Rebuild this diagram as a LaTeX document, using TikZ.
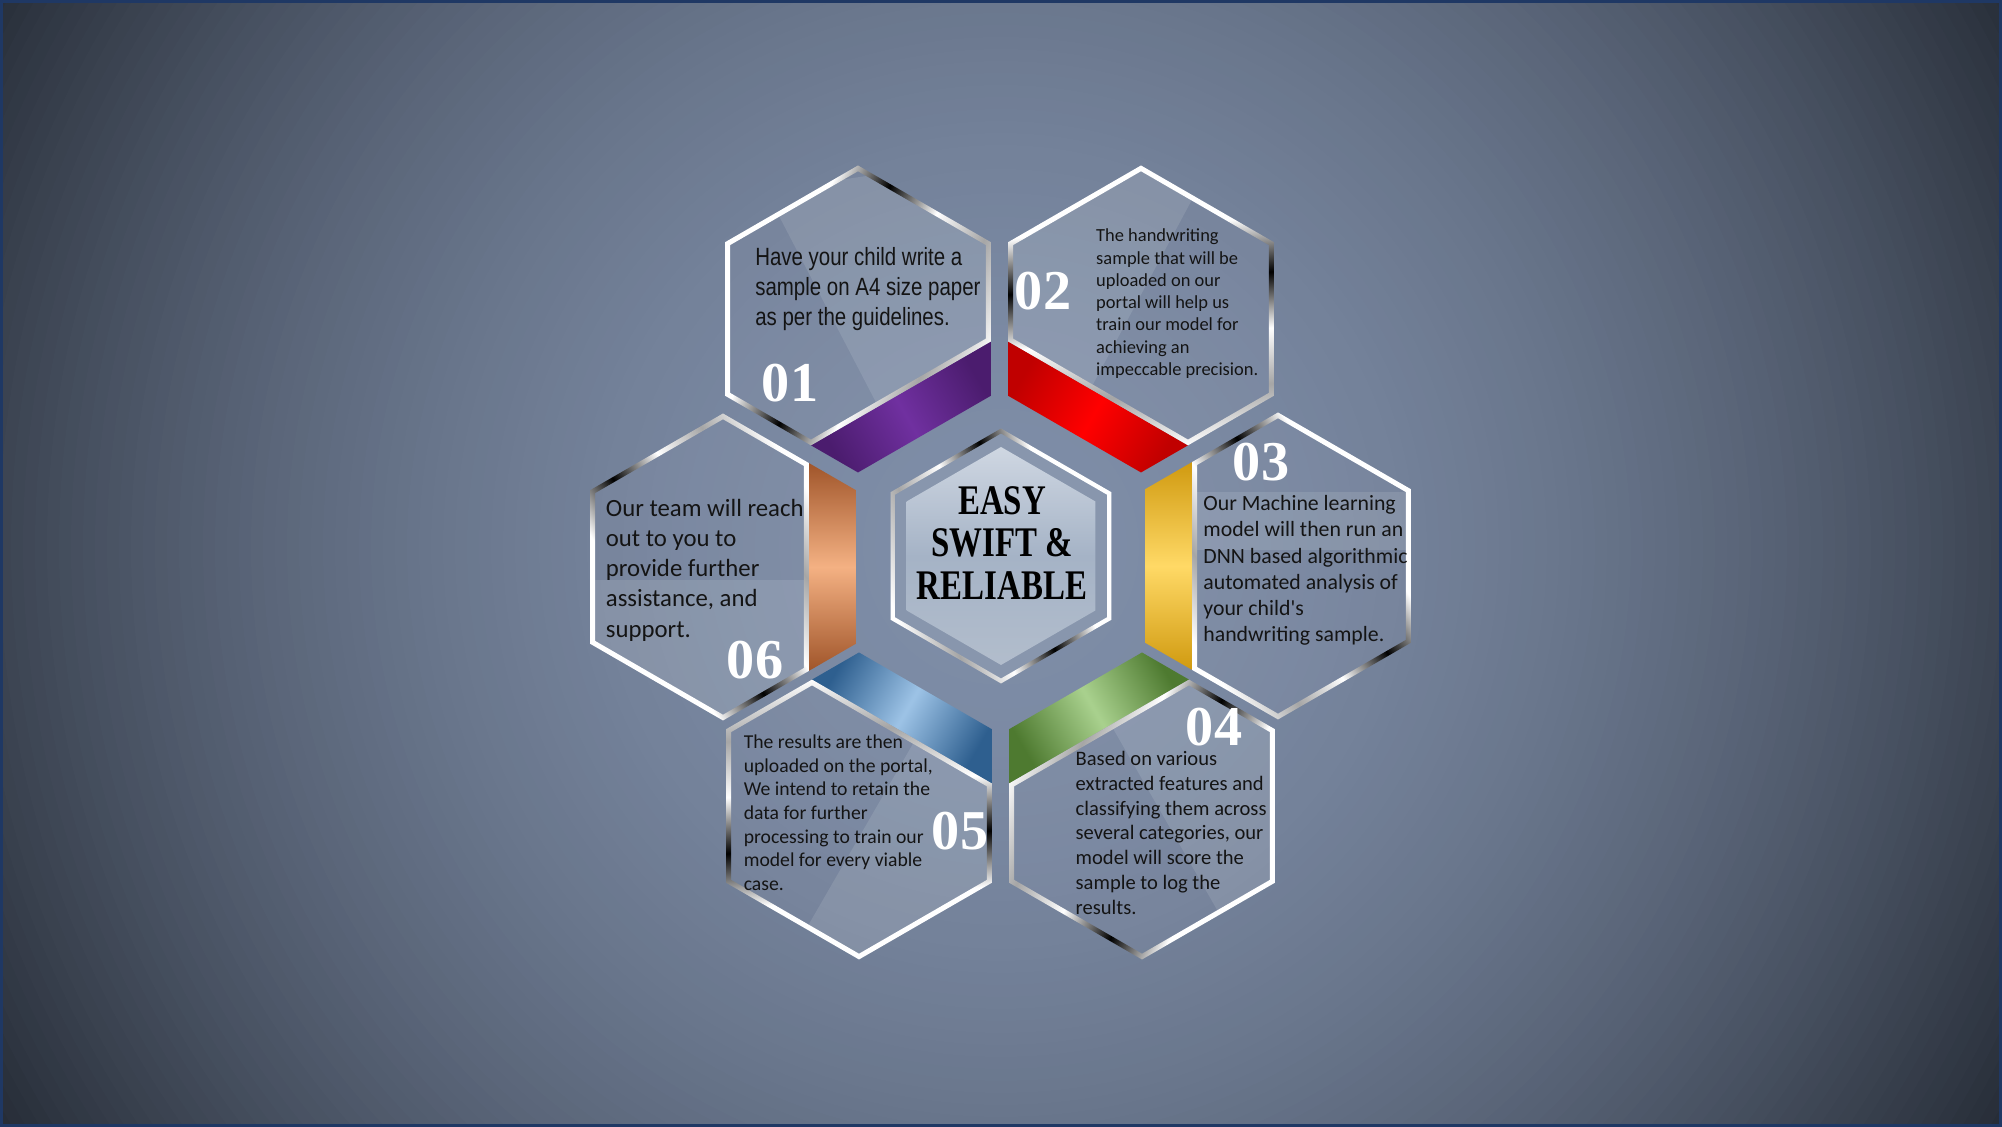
\documentclass[tikz,border=0pt]{standalone}
\usepackage{fontspec}
\newfontfamily\bodyfont{Carlito}
\newfontfamily\narrowfont[FakeStretch=0.82]{Liberation Sans}
\newfontfamily\digitfont{Liberation Serif}
\newfontfamily\corefont[FakeStretch=0.78]{Liberation Serif}

\definecolor{bgmid}{HTML}{7E8DA7}
\definecolor{bgedge}{HTML}{252B35}
\definecolor{framecol}{HTML}{1F3864}
\definecolor{purpleend}{HTML}{4B1C6E}
\definecolor{purplemid}{HTML}{7030A0}
\definecolor{redend}{HTML}{C00000}
\definecolor{redmid}{HTML}{FF0000}
\definecolor{yellowend}{HTML}{D09A10}
\definecolor{yellowmid}{HTML}{FFD966}
\definecolor{greenend}{HTML}{4E7A30}
\definecolor{greenmid}{HTML}{A9D18E}
\definecolor{blueend}{HTML}{2E5F8F}
\definecolor{bluemid}{HTML}{9DC3E6}
\definecolor{orangeend}{HTML}{A0552A}
\definecolor{orangemid}{HTML}{F4B183}
\definecolor{corering}{HTML}{8896AD}
\definecolor{coretop}{HTML}{CFD7E2}
\definecolor{coremid}{HTML}{A5B3C6}
\definecolor{corebot}{HTML}{B2BDCC}

\pgfdeclarehorizontalshading{metal}{100bp}{color(0bp)=(black); color(10bp)=(white); color(24bp)=(white); color(34bp)=(gray!70); color(44bp)=(white); color(54bp)=(black); color(64bp)=(white); color(80bp)=(white); color(90bp)=(black!75); color(100bp)=(white)}

\tikzset{
  glass/.style={fill=white, fill opacity=0.03},
  rim/.style={shading=metal, even odd rule},
  sheen/.style={fill=white, fill opacity=0.11},
  note/.style={anchor=north west, inner sep=0pt, align=left, text=black!92},
  numlabel/.style={text=white, inner sep=0pt, font=\digitfont\bfseries\fontsize{16}{16}\selectfont},
}

\def\hexR{1.535}
\def\hexRi{1.3293}
\def\rimR{1.4773}
\def\bandT{0.47}
\def\bandS{0.2714}

% glass part of a cell, band side towards the left
\newcommand\glass[1]{({-0.86603*#1+\bandT},{#1/2+\bandS}) -- (0,#1) -- ({0.86603*#1},{#1/2}) -- ({0.86603*#1},{-#1/2}) -- (0,-#1) -- ({-0.86603*#1+\bandT},{-#1/2-\bandS}) -- cycle}
\newcommand\hexagon[1]{(90:#1) -- (150:#1) -- (210:#1) -- (270:#1) -- (330:#1) -- (30:#1) -- cycle}

% #1 centre, #2 angle, #3 band end colour, #4 band middle colour
\newcommand\hexcell[4]{%
  \begin{scope}[shift={#1}, rotate=#2]
    \fill[glass] \glass{\hexR};
    \shade[top color=#3, bottom color=#3, middle color=#4, shading angle=#2]
      (-\hexRi,{\hexR/2}) -- ({-\hexRi+\bandT},{\hexR/2+\bandS}) -- ({-\hexRi+\bandT},{-\hexR/2-\bandS}) -- (-\hexRi,{-\hexR/2}) -- cycle;
    \shade[rim, shading angle={#2+35}] \glass{\hexR} \glass{\rimR};
  \end{scope}}

\begin{document}
\begin{tikzpicture}
\useasboundingbox (0,0) rectangle (20.02,11.27);
% backdrop, darker towards the corners
\begin{scope}
  \clip (0,0) rectangle (20.02,11.27);
  \fill[bgedge] (0,0) rectangle (20.02,11.27);
  \foreach \k in {0,...,95} {
    \pgfmathsetmacro\rad{11.7-0.12*\k}
    \pgfmathsetmacro\mix{100*(1-(\rad/11.7)^2)}
    \fill[bgmid!\mix!bgedge] (10.01,5.8) circle (\rad);
  }
\end{scope}
\draw[line width=0.9pt, color=framecol] (0.016,0.016) rectangle (20.004,11.254);

% cell centres
\coordinate (h1) at (8.58,8.08);
\coordinate (h2) at (11.41,8.08);
\coordinate (h3) at (12.78,5.61);
\coordinate (h4) at (11.42,3.21);
\coordinate (h5) at (8.59,3.21);
\coordinate (h6) at (7.23,5.60);
\coordinate (mid) at (10.01,5.71);

% sheens
\begin{scope}
  \clip[shift={(h1)}, rotate=120] \glass{\rimR};
  \fill[sheen] (7.66,9.36) -- (9.19,6.42) -- (10.21,6.42) -- (10.21,9.74) -- cycle;
\end{scope}
\begin{scope}
  \clip[shift={(h2)}, rotate=60] \glass{\rimR};
  \fill[sheen] (12.17,9.74) -- (10.39,6.42) -- (9.83,6.42) -- (9.83,9.74) -- cycle;
\end{scope}
\begin{scope}
  \clip[shift={(h3)}, rotate=0] \glass{\rimR};
  \fill[sheen] (11,5.77) -- (14.5,5.77) -- (14.5,6.35) -- (11,6.35) -- cycle;
\end{scope}
\begin{scope}
  \clip[shift={(h4)}, rotate=-60] \glass{\rimR};
  \fill[sheen] (10.76,4.63) -- (12.59,1.44) -- (13.28,1.44) -- (13.28,4.63) -- cycle;
\end{scope}
\begin{scope}
  \clip[shift={(h5)}, rotate=240] \glass{\rimR};
  \fill[sheen] (9.59,4.63) -- (7.75,1.44) -- (10.21,1.44) -- (10.21,4.63) -- cycle;
\end{scope}
\begin{scope}
  \clip[shift={(h6)}, rotate=180] \glass{\rimR};
  \fill[sheen] (5.5,5.47) -- (9,5.47) -- (9,3.5) -- (5.5,3.5) -- cycle;
\end{scope}

% cells
\hexcell{(h1)}{120}{purpleend}{purplemid}
\hexcell{(h2)}{60}{redend}{redmid}
\hexcell{(h3)}{0}{yellowend}{yellowmid}
\hexcell{(h4)}{-60}{greenend}{greenmid}
\hexcell{(h5)}{240}{blueend}{bluemid}
\hexcell{(h6)}{180}{orangeend}{orangemid}

% centre cell
\begin{scope}[shift={(mid)}]
  \fill[corering] \hexagon{1.275};
  \shade[top color=coretop, bottom color=corebot, middle color=coremid] \hexagon{1.09};
  \shade[rim, shading angle=20] \hexagon{1.275} \hexagon{1.225};
\end{scope}
\node[font=\corefont\bfseries\fontsize{12}{12}\selectfont, align=center, inner sep=0pt] (motto) at (10.02,5.84) {EASY\\SWIFT \&\\RELIABLE};

% texts
\node[note, font=\narrowfont\fontsize{7.1}{8.5}\selectfont] (t1) at (7.546,8.801) {Have your child write a\\sample on A4 size paper\\as per the guidelines.};
\node[note, font=\bodyfont\fontsize{5.25}{6.35}\selectfont] (t2) at (10.955,8.988) {The handwriting\\sample that will be\\uploaded on our\\portal will help us\\train our model for\\achieving an\\impeccable precision.};
\node[note, font=\bodyfont\fontsize{6.2}{7.47}\selectfont] (t3) at (12.027,6.322) {Our Machine learning\\model will then run an\\DNN based algorithmic\\automated analysis of\\your child's\\handwriting sample.};
\node[note, font=\bodyfont\fontsize{5.85}{7.07}\selectfont] (t4) at (10.750,3.766) {Based on various\\extracted features and\\classifying them across\\several categories, our\\model will score the\\sample to log the\\results.};
\node[note, font=\bodyfont\fontsize{5.6}{6.7}\selectfont] (t5) at (7.431,3.925) {The results are then\\uploaded on the portal,\\We intend to retain the\\data for further\\processing to train our\\model for every viable\\case.};
\node[note, font=\bodyfont\fontsize{7.05}{8.6}\selectfont] (t6) at (6.052,6.287) {Our team will reach\\out to you to\\provide further\\assistance, and\\support.};

% step numbers
\node[numlabel] (n1) at (7.90,7.44) {01};
\node[numlabel] (n2) at (10.43,8.36) {02};
\node[numlabel] (n3) at (12.61,6.65) {03};
\node[numlabel] (n4) at (12.14,4.00) {04};
\node[numlabel] (n5) at (9.60,2.96) {05};
\node[numlabel] (n6) at (7.55,4.67) {06};
\end{tikzpicture}
\end{document}
